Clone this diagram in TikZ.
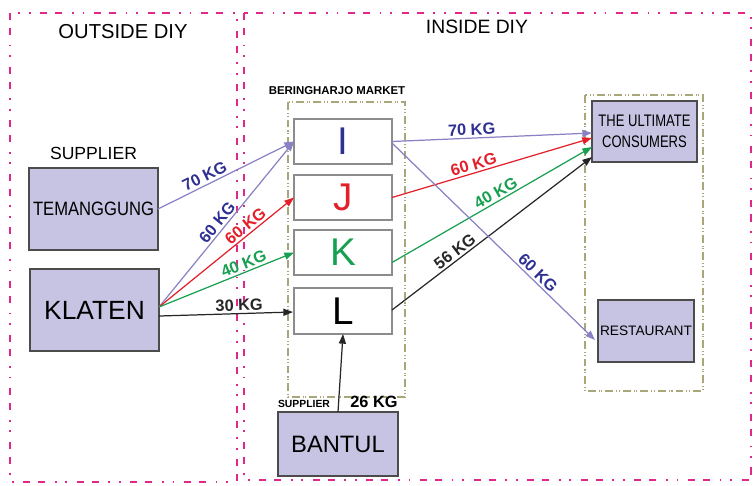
\documentclass[tikz,border=0pt]{standalone}
\usepackage{fontspec}
\setmainfont{Liberation Sans}
\newfontfamily\condfont[FakeStretch=0.78]{Liberation Sans}
\newfontfamily\semicondfont[FakeStretch=0.86]{Liberation Sans}
\usetikzlibrary{shapes,arrows.meta,positioning,calc}
\definecolor{framepink}{HTML}{E0288C}
\definecolor{marketolive}{HTML}{A9A77A}
\definecolor{supfill}{HTML}{C6C4E2}
\definecolor{flowblue}{HTML}{8882C4}
\definecolor{txtblue}{HTML}{2E3192}
\definecolor{flowred}{HTML}{E3202A}
\definecolor{flowgreen}{HTML}{17A050}

\begin{document}
\begin{tikzpicture}[x=0.02cm, y=-0.02cm,
  regionframe/.style={draw=framepink, line width=1.2pt,
    dash pattern=on 4pt off 4.5pt on 4pt off 5.5pt on 1pt off 5pt on 1pt off 5.5pt},
  groupframe/.style={draw=marketolive, line width=0.75pt,
    dash pattern=on 4.5pt off 1.7pt on 0.6pt off 0.9pt on 0.6pt off 1.7pt},
  supbox/.style={draw=black!70, fill=supfill, line width=0.8pt, rectangle, outer sep=0pt, inner sep=0pt},
  traderbox/.style={draw=black!45, fill=white, line width=0.6pt, rectangle, outer sep=0pt, inner sep=0pt,
    minimum width=1.96cm, minimum height=0.9cm, font=\fontsize{22}{24}\selectfont},
  flow/.style={-{Triangle[length=5.5pt,width=4pt]}, line width=0.7pt},
  kg/.style={font=\bfseries\fontsize{9.3}{10}\selectfont, sloped, above, inner sep=1.2pt}]
\useasboundingbox (0,0) rectangle (754,485);

% Regions
\draw[regionframe] (10,13) rectangle (237,482);
\draw[regionframe] (244,13) rectangle (751,480);
\node (outside) at (123,32) {\fontsize{11.5}{13}\selectfont OUTSIDE DIY};
\node (inside) at (477,27) {\fontsize{11}{13}\selectfont INSIDE DIY};

% Groups
\draw[groupframe] (288,102) rectangle (405,397);
\draw[groupframe] (585,95) rectangle (703,391);
\node (marketlabel) at (337,91) {\bfseries\fontsize{6.5}{7}\selectfont BERINGHARJO MARKET};

% Suppliers
\node[supbox, minimum width=2.58cm, minimum height=1.64cm] (temanggung) at (93.5,209)
  {\semicondfont\fontsize{11}{12}\selectfont TEMANGGUNG};
\node[above=1pt of temanggung] (suplabel) {\fontsize{10}{11}\selectfont SUPPLIER};
\node[supbox, minimum width=2.58cm, minimum height=1.64cm] (klaten) at (94.5,310)
  {\fontsize{15}{16}\selectfont KLATEN};
\node[supbox, minimum width=2.4cm, minimum height=1.28cm] (bantul) at (338,444)
  {\fontsize{13.5}{15}\selectfont BANTUL};
\node (bantullabel) at (304,404) {\bfseries\fontsize{5.9}{6.5}\selectfont SUPPLIER};
\node (bantulkg) at (374,402) {\bfseries\fontsize{9.3}{10}\selectfont 26 KG};

% Traders
\node[traderbox, text=txtblue] (I) at (343,141.5) {I};
\node[traderbox, text=flowred] (J) at (343,197.5) {J};
\node[traderbox, text=flowgreen] (K) at (343,252.5) {K};
\node[traderbox, minimum height=0.92cm] (L) at (343,311) {L};

% Buyers
\node[supbox, minimum width=2.1cm, minimum height=1.22cm, align=center] (consumers) at (644.5,131.5)
  {\condfont\fontsize{9.5}{11}\selectfont THE ULTIMATE\\\condfont\fontsize{9.5}{11}\selectfont CONSUMERS};
\node[supbox, minimum width=1.92cm, minimum height=1.24cm] (restaurant) at (646,331)
  {\fontsize{7.8}{9}\selectfont RESTAURANT};

% Arrows into the market
\draw[flow, flowblue] (temanggung.east) -- (I.west)
  node[kg, pos=0.37, text=txtblue] {70 KG};
\draw[flow, flowblue] ($(klaten.east)+(0,-3)$) -- (I.west)
  node[kg, pos=0.48, text=txtblue] {60 KG};
\draw[flow, flowred] ($(klaten.east)+(0,-3)$) -- (J.west)
  node[kg, pos=0.68, text=flowred] {60 KG};
\draw[flow, flowgreen] ($(klaten.east)+(0,-3)$) -- (K.west)
  node[kg, pos=0.65, text=flowgreen] {40 KG};
\draw[flow, black!85] ($(klaten.east)+(0,6)$) -- ($(L.west)+(-1,1)$)
  node[kg, pos=0.6] {30 KG};
\draw[flow, black!85] (bantul.north) -- (L.south);

% Arrows out of the market
\draw[flow, flowblue] (I.east) -- ($(consumers.west)+(0,1.5)$)
  node[kg, pos=0.4, text=txtblue] {70 KG};
\draw[flow, flowred] (J.east) -- ($(consumers.west)+(0,6.5)$)
  node[kg, pos=0.42, text=flowred] {60 KG};
\draw[flow, flowgreen] ($(K.east)+(0,10)$) -- ($(consumers.west)+(0,15.5)$)
  node[kg, pos=0.54, text=flowgreen] {40 KG};
\draw[flow, black!85] ($(L.east)+(0,-1)$) -- ($(consumers.west)+(0,25.5)$)
  node[kg, pos=0.34] {56 KG};
\draw[flow, flowblue] ($(I.east)+(0,1.5)$) -- ($(restaurant.west)+(-3,9)$)
  node[kg, pos=0.69, text=txtblue] {60 KG};
\end{tikzpicture}
\end{document}
